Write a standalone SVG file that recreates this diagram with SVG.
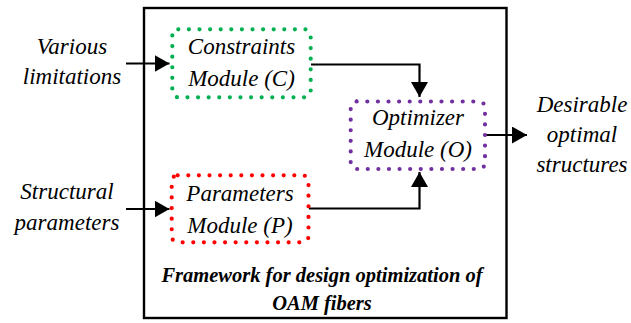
<svg xmlns="http://www.w3.org/2000/svg" width="631" height="323" viewBox="0 0 631 323">
<defs>
<style>
.t{font-family:"Liberation Serif","Times New Roman",serif;font-style:italic;font-size:23px;fill:#000;text-anchor:middle}
.b{font-family:"Liberation Serif","Times New Roman",serif;font-style:italic;font-weight:bold;font-size:20.5px;fill:#000;text-anchor:middle}
.dot{fill:none;stroke-width:4.2;stroke-linecap:round;stroke-dasharray:0 10.6}
.ln{fill:none;stroke:#000;stroke-width:2.2}
</style>
<marker id="ah" viewBox="0 0 15 17" refX="15" refY="8.5" markerWidth="15" markerHeight="17" markerUnits="userSpaceOnUse" orient="auto">
<path d="M0,0 L15,8.5 L0,17 Z" fill="#000"/>
</marker>
</defs>
<rect width="631" height="323" fill="#fff"/>
<g id="framework">
<rect x="144" y="8" width="362.5" height="310" fill="none" stroke="#000" stroke-width="2.4"/>
<text class="b" x="322" y="281.5">Framework for design optimization of</text>
<text class="b" x="322" y="310">OAM fibers</text>
</g>
<g id="connectors">
<path class="ln" d="M126,63.5 H169.5" marker-end="url(#ah)"/>
<path class="ln" d="M126,209 H169.5" marker-end="url(#ah)"/>
<path class="ln" d="M311,64.5 H419.5 V97" marker-end="url(#ah)"/>
<path class="ln" d="M309,208.5 H419.5 V172" marker-end="url(#ah)"/>
<path class="ln" d="M486,135 H527" marker-end="url(#ah)"/>
</g>
<g id="constraints">
<rect class="dot" x="172.3" y="29.3" width="138.4" height="68" rx="6" stroke="#00B050"/>
<text class="t" x="241.5" y="54.3">Constraints</text>
<text class="t" x="241.5" y="86">Module (C)</text>
</g>
<g id="parameters">
<rect class="dot" x="171.7" y="175.3" width="136.8" height="67" rx="6" stroke="#FF0000"/>
<text class="t" x="240" y="200.7">Parameters</text>
<text class="t" x="240" y="232.5">Module (P)</text>
</g>
<g id="optimizer">
<rect class="dot" x="350.7" y="101.5" width="134.3" height="67.5" rx="6" stroke="#7030A0"/>
<text class="t" x="418" y="125">Optimizer</text>
<text class="t" x="418" y="156.7">Module (O)</text>
</g>
<g id="inputs">
<text class="t" x="72" y="54">Various</text>
<text class="t" x="72" y="84.3">limitations</text>
<text class="t" x="67" y="199.3">Structural</text>
<text class="t" x="67" y="230">parameters</text>
</g>
<g id="output">
<text class="t" x="582" y="111.7">Desirable</text>
<text class="t" x="582" y="141.7">optimal</text>
<text class="t" x="582" y="171.7">structures</text>
</g>
</svg>
